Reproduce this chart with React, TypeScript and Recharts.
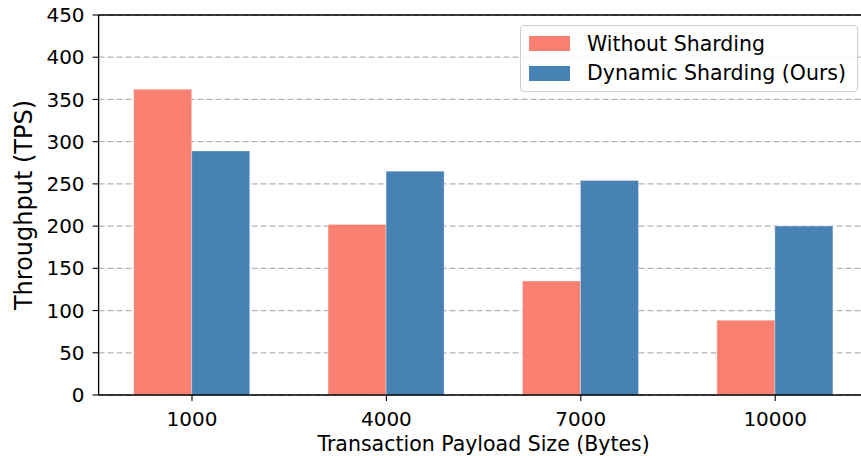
import React from 'react';
import { BarChart, Bar, XAxis, YAxis, CartesianGrid, Legend, ReferenceLine } from 'recharts';

const categories = ['1000', '4000', '7000', '10000'];
const withoutSharding = [362, 202, 135, 88.5];
const dynamicSharding = [289, 265, 254, 200];
const yTicks = [0, 50, 100, 150, 200, 250, 300, 350, 400, 450];
const seriesNames = ['Without Sharding', 'Dynamic Sharding (Ours)'];
const seriesColors = ['#FA8072', '#4682B4'];
const xLabel = 'Transaction Payload Size (Bytes)';
const yLabel = 'Throughput (TPS)';

const data = categories.map((c, i) => ({
  size: c,
  without: withoutSharding[i],
  dynamic: dynamicSharding[i],
}));

const FONT = '"DejaVu Sans", sans-serif';

const LegendBox = () => (
  <div
    style={{
      width: 338,
      height: 67,
      boxSizing: 'border-box',
      border: '1px solid #d0d0d0',
      borderRadius: 4,
      background: 'rgba(255,255,255,0.85)',
      paddingTop: 3,
      fontFamily: FONT,
      fontSize: 20.5,
      color: '#000',
    }}
  >
    {seriesNames.map((n, i) => (
      <div key={n} style={{ display: 'flex', alignItems: 'center', height: 29.5 }}>
        <div style={{ width: 41, height: 15, marginLeft: 8, background: seriesColors[i] }} />
        <div style={{ marginLeft: 17, whiteSpace: 'nowrap' }}>{n}</div>
      </div>
    ))}
  </div>
);

export default function App() {
  return (
    <div
      style={{
        position: 'absolute',
        left: 8,
        top: 0,
        width: 853,
        height: 456,
        overflow: 'hidden',
      }}
    >
      <BarChart
        width={880}
        height={456}
        data={data}
        margin={{ top: 15, right: 19.4, bottom: 0, left: 0 }}
        barCategoryGap="20%"
        barGap={0}
      >
        <CartesianGrid
          horizontal
          vertical={false}
          stroke="#b4b4b4"
          strokeWidth={1.3}
          strokeDasharray="6 3"
        />
        <XAxis
          dataKey="size"
          type="category"
          height={61}
          padding={{ left: -3.8, right: -3.8 }}
          tickSize={6}
          tickMargin={11}
          axisLine={{ stroke: '#000', strokeWidth: 1.3 }}
          tickLine={{ stroke: '#000', strokeWidth: 1.1 }}
          tick={{ fill: '#000', fontSize: 20, fontFamily: FONT }}
          label={{
            value: xLabel,
            position: 'insideBottom',
            offset: 5,
            fill: '#000',
            fontSize: 20.5,
            fontFamily: FONT,
          }}
        />
        <YAxis
          type="number"
          domain={[0, 450]}
          ticks={yTicks}
          width={90.6}
          interval={0}
          tickSize={6}
          tickMargin={8}
          axisLine={{ stroke: '#000', strokeWidth: 1.3 }}
          tickLine={{ stroke: '#000', strokeWidth: 1.1 }}
          tick={{ fill: '#000', fontSize: 20, fontFamily: FONT }}
          label={{
            value: yLabel,
            angle: -90,
            position: 'insideLeft',
            offset: 15.3,
            fill: '#000',
            fontSize: 24,
            fontFamily: FONT,
            style: { textAnchor: 'middle' },
          }}
        />
        <ReferenceLine y={450} stroke="#000" strokeWidth={1.3} ifOverflow="visible" />
        <Bar
          dataKey="without"
          name={seriesNames[0]}
          fill={seriesColors[0]}
          stroke="#ffffff"
          strokeOpacity={0.5}
          strokeWidth={0.6}
          isAnimationActive={false}
        />
        <Bar
          dataKey="dynamic"
          name={seriesNames[1]}
          fill={seriesColors[1]}
          stroke="#ffffff"
          strokeOpacity={0.5}
          strokeWidth={0.6}
          isAnimationActive={false}
        />
        <Legend
          layout="vertical"
          align="center"
          verticalAlign="middle"
          wrapperStyle={{ left: 512, top: 25, width: 'auto', height: 'auto' }}
          content={() => <LegendBox />}
        />
      </BarChart>
    </div>
  );
}
